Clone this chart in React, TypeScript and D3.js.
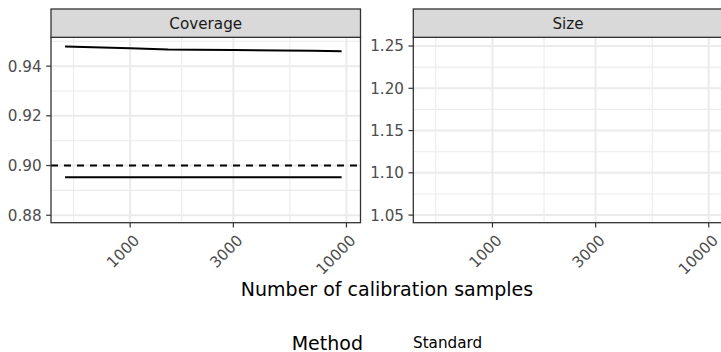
import React from 'react';
import * as d3 from 'd3';

// sample sizes along the x axis (log scale)
const sampleRange = [500, 10000];
const xBreaks = [1000, 3000, 10000];
const xMinor = [547, 1732, 5477];

// Coverage panel
const coverageN = [500, 1000, 1500, 2000, 3000, 5000, 7000, 9500];
const coverageUpper = [0.9479, 0.9472, 0.9467, 0.9466, 0.9465, 0.9463, 0.9462, 0.946];
const coverageLower = [0.8953, 0.8953, 0.8953, 0.8953, 0.8953, 0.8953, 0.8953, 0.8953];
const coverageTarget = 0.9;
const coverageLimits = [0.877, 0.9516];
const coverageTicks = [0.88, 0.9, 0.92, 0.94];
const coverageMinor = [0.89, 0.91, 0.93, 0.95];

// Size panel (no visible series)
const sizeLimits = [1.041, 1.2603];
const sizeTicks = [1.05, 1.1, 1.15, 1.2, 1.25];
const sizeMinor = [1.075, 1.125, 1.175, 1.225];

const legendTitle = 'Method';
const legendLabels = ['Standard'];

const W = 721;
const H = 352;
const font = '"DejaVu Sans", Verdana, sans-serif';
const top = 37.3;
const bottom = 222.7;
const stripTop = 9;
const panelW = 309.5;

const logLo = Math.log10(sampleRange[0]);
const logHi = Math.log10(sampleRange[1]);
const pad = (logHi - logLo) * 0.05;

function Panel({ left, title, limits, ticks, minor, fmt, children }: any) {
  const x = d3.scaleLog().domain([10 ** (logLo - pad), 10 ** (logHi + pad)]).range([left, left + panelW]);
  const y = d3.scaleLinear().domain(limits).range([bottom, top]);
  return (
    <g>
      <rect x={left} y={top} width={panelW} height={bottom - top} fill="#fff" />
      {minor.map((v: number) => (
        <line key={'ym' + v} x1={left} x2={left + panelW} y1={y(v)} y2={y(v)} stroke="#EBEBEB" strokeWidth={1.1} />
      ))}
      {xMinor.map(v => (
        <line key={'xm' + v} x1={x(v)} x2={x(v)} y1={top} y2={bottom} stroke="#EBEBEB" strokeWidth={1.1} />
      ))}
      {ticks.map((v: number) => (
        <line key={'yM' + v} x1={left} x2={left + panelW} y1={y(v)} y2={y(v)} stroke="#EBEBEB" strokeWidth={2} />
      ))}
      {xBreaks.map(v => (
        <line key={'xM' + v} x1={x(v)} x2={x(v)} y1={top} y2={bottom} stroke="#EBEBEB" strokeWidth={2} />
      ))}
      {children && children(x, y)}
      <rect x={left} y={top} width={panelW} height={bottom - top} fill="none" stroke="#333333" strokeWidth={1.3} />
      <rect x={left} y={stripTop} width={panelW} height={top - stripTop} fill="#D9D9D9" stroke="#333333" strokeWidth={1.3} />
      <text x={left + panelW / 2} y={(stripTop + top) / 2} dy="0.36em" textAnchor="middle" fontSize={15.2} fill="#1A1A1A">
        {title}
      </text>
      {ticks.map((v: number) => (
        <g key={'yt' + v}>
          <line x1={left - 4.8} x2={left} y1={y(v)} y2={y(v)} stroke="#333333" strokeWidth={1.2} />
          <text x={left - 9.3} y={y(v)} dy="0.36em" textAnchor="end" fontSize={15.2} fill="#4D4D4D">
            {fmt(v)}
          </text>
        </g>
      ))}
      {xBreaks.map(v => (
        <g key={'xt' + v}>
          <line x1={x(v)} x2={x(v)} y1={bottom} y2={bottom + 4.8} stroke="#333333" strokeWidth={1.2} />
          <text
            transform={`translate(${x(v) + 2.5},${bottom + 11}) rotate(-45)`}
            dy="0.72em"
            textAnchor="end"
            fontSize={15.2}
            fill="#4D4D4D"
          >
            {v}
          </text>
        </g>
      ))}
    </g>
  );
}

export default function App() {
  const line = (x: any, y: any, ys: number[]) =>
    d3.line<number>().x((_, i) => x(coverageN[i])).y(d => y(d))(ys) || '';

  return (
    <svg width={W} height={H} style={{ position: 'absolute', left: 0, top: 0, fontFamily: font }}>
      <rect width={W} height={H} fill="#fff" />
      <Panel left={51} title="Coverage" limits={coverageLimits} ticks={coverageTicks} minor={coverageMinor} fmt={d3.format('.2f')}>
        {(x: any, y: any) => (
          <g>
            <line x1={51} x2={51 + panelW} y1={y(coverageTarget)} y2={y(coverageTarget)} stroke="#000" strokeWidth={2} strokeDasharray="7,6" />
            <path d={line(x, y, coverageUpper)} fill="none" stroke="#000" strokeWidth={2} />
            <path d={line(x, y, coverageLower)} fill="none" stroke="#000" strokeWidth={2} />
          </g>
        )}
      </Panel>
      <Panel left={413.3} title="Size" limits={sizeLimits} ticks={sizeTicks} minor={sizeMinor} fmt={d3.format('.2f')} />
      <text x={387} y={296} textAnchor="middle" fontSize={19} fill="#000">
        Number of calibration samples
      </text>
      <text x={291.7} y={349.5} fontSize={19} fill="#000">
        {legendTitle}
      </text>
      {legendLabels.map(l => (
        <text key={l} x={413} y={347.5} fontSize={15.2} fill="#000">
          {l}
        </text>
      ))}
    </svg>
  );
}
